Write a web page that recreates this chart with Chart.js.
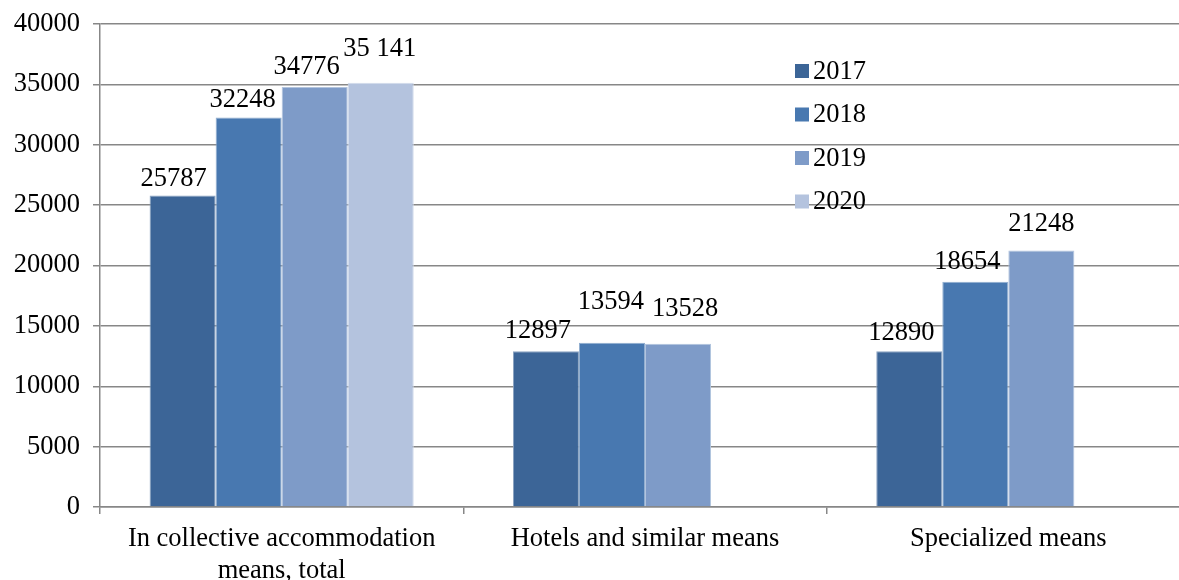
<!DOCTYPE html>
<html>
<head>
<meta charset="utf-8">
<script src="https://cdn.jsdelivr.net/npm/chart.js@4/dist/chart.umd.min.js"></script>
<style>
  html, body { margin: 0; padding: 0; background: #fff; overflow: hidden; }
  #wrap { width: 1200px; height: 600px; }
</style>
</head>
<body>
<div id="wrap"><canvas id="chart" width="1200" height="600"></canvas></div>
<script>
// Data
const categories = [['In collective accommodation', 'means, total'], 'Hotels and similar means', 'Specialized means'];
const years = ['2017', '2018', '2019', '2020'];
const values2017 = [25787, 12897, 12890];
const values2018 = [32248, 13594, 18654];
const values2019 = [34776, 13528, 21248];
const values2020 = [35141, null, null];
const yTicks = [0, 5000, 10000, 15000, 20000, 25000, 30000, 35000, 40000];

// Styles
const colors = ['#3c6597', '#4878b0', '#7e9bc8', '#b4c3de'];
const edgeColors = ['#8aa3c1', '#91aed0', '#b2c4de', '#d2dbeb'];
const serif = '"Liberation Serif", "Times New Roman", serif';
const fontSize = 26.5;
const gridColor = '#878787';
// nudges of the value labels, as placed in the original (px from bar top)
const labelDx = [[-9, -8, -8], [-6, -1, -8], [-8, 7, 0], [-1, 0, 0]];
const labelDy = [[-17, -20, -18], [-18, -41, -20], [-20, -35, -26], [-34, 0, 0]];

function fmt(v, ds) {
  // the 2020 value is written with a space as thousands separator
  return ds === 3 ? String(v).replace(/\B(?=(\d{3})+(?!\d))/g, ' ') : String(v);
}

const valueLabels = {
  id: 'valueLabels',
  afterDatasetsDraw(chart) {
    const ctx = chart.ctx;
    ctx.save();
    ctx.font = fontSize + 'px ' + serif;
    ctx.fillStyle = '#000';
    ctx.textAlign = 'center';
    ctx.textBaseline = 'middle';
    chart.data.datasets.forEach((ds, i) => {
      chart.getDatasetMeta(i).data.forEach((bar, j) => {
        const v = ds.data[j];
        if (v == null) return;
        ctx.fillText(fmt(v, i), bar.x + labelDx[i][j], bar.y + labelDy[i][j]);
      });
    });
    ctx.restore();
  }
};

const sideLegend = {
  id: 'sideLegend',
  afterDraw(chart) {
    const ctx = chart.ctx;
    ctx.save();
    ctx.font = fontSize + 'px ' + serif;
    ctx.textBaseline = 'middle';
    chart.data.datasets.forEach((ds, i) => {
      const y = 71 + i * 43.5;
      ctx.fillStyle = ds.backgroundColor;
      ctx.fillRect(795, y - 7, 14, 14);
      ctx.fillStyle = '#000';
      ctx.fillText(ds.label, 813, y + 1);
    });
    ctx.restore();
  }
};

const series = [values2017, values2018, values2019, values2020];

new Chart(document.getElementById('chart'), {
  type: 'bar',
  data: {
    labels: categories,
    datasets: years.map((y, i) => ({
      label: y,
      data: series[i],
      backgroundColor: colors[i],
      borderColor: edgeColors[i],
      borderWidth: 1,
      categoryPercentage: 0.727,
      barPercentage: 1.0
    }))
  },
  options: {
    responsive: false,
    animation: false,
    layout: { padding: { top: 24, right: 10, bottom: 0, left: 0 } },
    plugins: {
      legend: { display: false },
      tooltip: { enabled: false }
    },
    scales: {
      x: {
        grid: { drawOnChartArea: false, drawTicks: true, tickLength: 7, offset: true, color: gridColor, lineWidth: 1.5 },
        border: { color: gridColor, width: 1.5 },
        ticks: {
          color: '#000',
          padding: 9,
          maxRotation: 0,
          autoSkip: false,
          font: { family: serif, size: fontSize, lineHeight: 1.2 }
        },
        afterFit(scale) { scale.height = 93; }
      },
      y: {
        min: 0,
        max: 40000,
        afterBuildTicks(scale) { scale.ticks = yTicks.map(v => ({ value: v })); },
        grid: { color: gridColor, lineWidth: 1.5, tickLength: 7 },
        border: { color: gridColor, width: 1.5 },
        ticks: {
          color: '#000',
          padding: 13,
          font: { family: serif, size: fontSize, lineHeight: 0.5 },
          callback: v => String(v)
        },
        afterFit(scale) { scale.width = 100; scale.paddingTop = 0; scale.paddingBottom = 0; }
      }
    }
  },
  plugins: [valueLabels, sideLegend]
});
</script>
</body>
</html>
